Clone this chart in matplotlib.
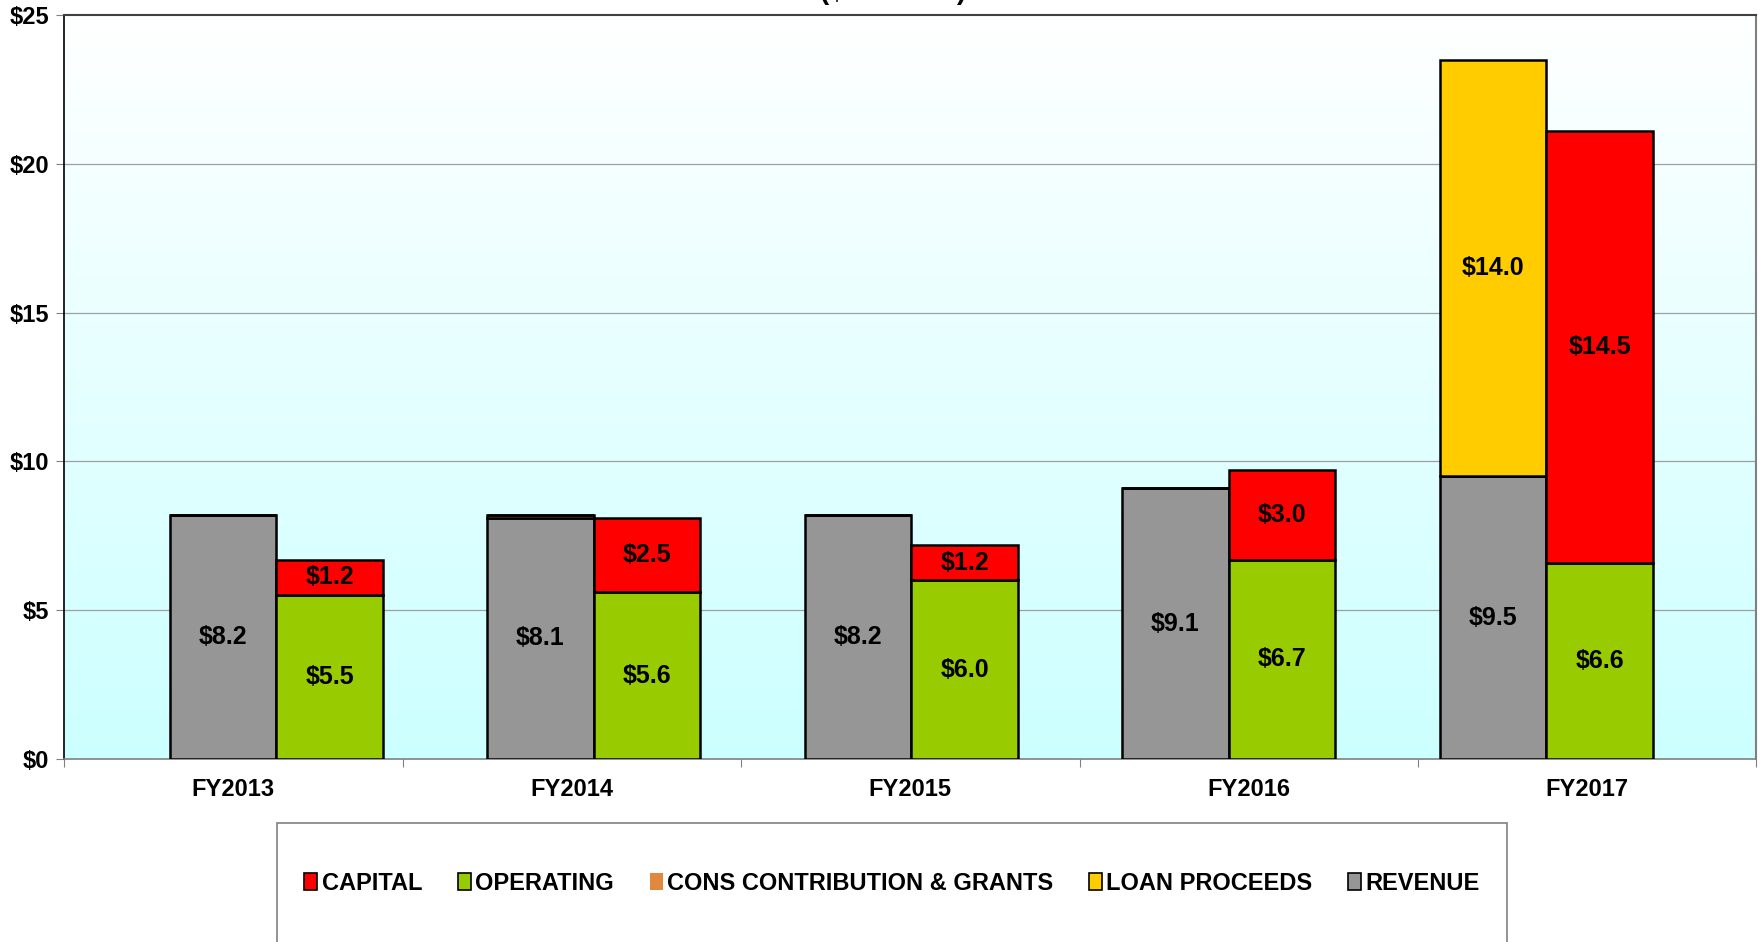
import matplotlib
matplotlib.use("Agg")
import matplotlib.pyplot as plt
from matplotlib.patches import Rectangle
import numpy as np

plt.rcParams['font.family'] = ['Liberation Sans', 'DejaVu Sans']
plt.rcParams['font.weight'] = 'bold'

years = ['FY2013', 'FY2014', 'FY2015', 'FY2016', 'FY2017']
revenue = [8.2, 8.1, 8.2, 9.1, 9.5]
cons_grants = [0.0, 0.1, 0.0, 0.0, 0.0]
loan = [0.0, 0.0, 0.0, 0.0, 14.0]
operating = [5.5, 5.6, 6.0, 6.7, 6.6]
capital = [1.2, 2.5, 1.2, 3.0, 14.5]

c_cap = '#FF0000'
c_op = '#99CC00'
c_cons = '#E0893E'
c_loan = '#FFCC00'
c_rev = '#969696'

fig = plt.figure(figsize=(17.6, 9.42), dpi=100)
ax = fig.add_axes([0.0364, 0.1943, 0.9616, 0.7897])

# gradient background white -> light cyan
grad = np.linspace(0, 1, 256).reshape(-1, 1)
top = np.array([1.0, 1.0, 1.0])
bot = np.array([0.8, 1.0, 1.0])
img = top + (bot - top) * grad[:, :, None] * np.ones((1, 2, 1))
ax.imshow(img, extent=[0, 5, 0, 25], aspect='auto', origin='upper', zorder=0)

ax.set_xlim(0, 5)
ax.set_ylim(0, 25)
for g in [5, 10, 15, 20]:
    ax.axhline(g, color='#A0A0A0', lw=0.9, zorder=1)

n = len(years)
centers = 0.627 + np.arange(n) * 0.938
w = 0.315
ec = 'black'
lw = 1.8

xl = centers - w / 2
xr = centers + w / 2
rev = np.array(revenue)
cons = np.array(cons_grants)
ln = np.array(loan)
op = np.array(operating)
cp = np.array(capital)

ax.bar(xl, rev, w, color=c_rev, edgecolor=ec, lw=lw, zorder=3)
ax.bar(xl, cons, w, bottom=rev, color=c_cons, edgecolor=ec, lw=lw, zorder=3)
ax.bar(xl, ln, w, bottom=rev + cons, color=c_loan, edgecolor=ec, lw=lw, zorder=3)
ax.bar(xr, op, w, color=c_op, edgecolor=ec, lw=lw, zorder=3)
ax.bar(xr, cp, w, bottom=op, color=c_cap, edgecolor=ec, lw=lw, zorder=3)

def label(xs, vals, bottoms):
    for x, v, b in zip(xs, vals, bottoms):
        if v >= 1:
            ax.text(x, b + v / 2, '$%.1f' % v, ha='center', va='center',
                    fontsize=18, fontweight='bold', zorder=4)

label(xl, rev, np.zeros(n))
label(xl, ln, rev + cons)
label(xr, op, np.zeros(n))
label(xr, cp, op)

# axes styling
ax.set_yticks(range(0, 26, 5))
ax.set_yticklabels(['$%d' % v for v in range(0, 26, 5)], fontsize=17, fontweight='bold')
ax.set_xticks(range(0, 6))
ax.set_xticklabels([''] * 6)
ax.set_xticks(np.arange(n) + 0.5, minor=True)
ax.set_xticklabels(years, minor=True, fontsize=17, fontweight='bold')
ax.tick_params(axis='x', which='minor', length=0, pad=14)
ax.tick_params(axis='x', which='major', length=6, color='#808080')
ax.tick_params(axis='y', length=6, color='#808080', pad=5)
ax.spines['left'].set_color('black')
ax.spines['left'].set_linewidth(1.2)
ax.spines['bottom'].set_color('#808080')
ax.spines['bottom'].set_linewidth(1.2)
ax.spines['top'].set_color('#404040')
ax.spines['top'].set_linewidth(1.5)
ax.spines['right'].set_color('#808080')
ax.spines['right'].set_linewidth(1.5)

# partially clipped title
fig.text(893 / 1760, 1.008, '($ millions)', ha='center', va='center',
         fontsize=20, fontweight='bold')

# legend box
box = Rectangle((277 / 1760, -0.05), (1507 - 277) / 1760, 0.05 + 1 - 823 / 942,
                transform=fig.transFigure, facecolor='white', edgecolor='#808080',
                lw=1.2, zorder=0)
fig.patches.append(box)

handles = [
    Rectangle((0, 0), 1, 1, facecolor=c_cap, edgecolor='black', lw=1.2),
    Rectangle((0, 0), 1, 1, facecolor=c_op, edgecolor='black', lw=1.2),
    Rectangle((0, 0), 1, 1, facecolor=c_cons, edgecolor='none'),
    Rectangle((0, 0), 1, 1, facecolor=c_loan, edgecolor='black', lw=1.2),
    Rectangle((0, 0), 1, 1, facecolor=c_rev, edgecolor='black', lw=1.2),
]
names = ['CAPITAL', 'OPERATING', 'CONS CONTRIBUTION & GRANTS', 'LOAN PROCEEDS', 'REVENUE']
fig.legend(handles, names, loc='center', bbox_to_anchor=(892 / 1760, 1 - 883 / 942),
           ncol=5, frameon=False, prop={'size': 17, 'weight': 'bold'},
           handlelength=0.55, handleheight=0.75, handletextpad=0.2, columnspacing=1.5)

fig.savefig('out.png', dpi=100)
